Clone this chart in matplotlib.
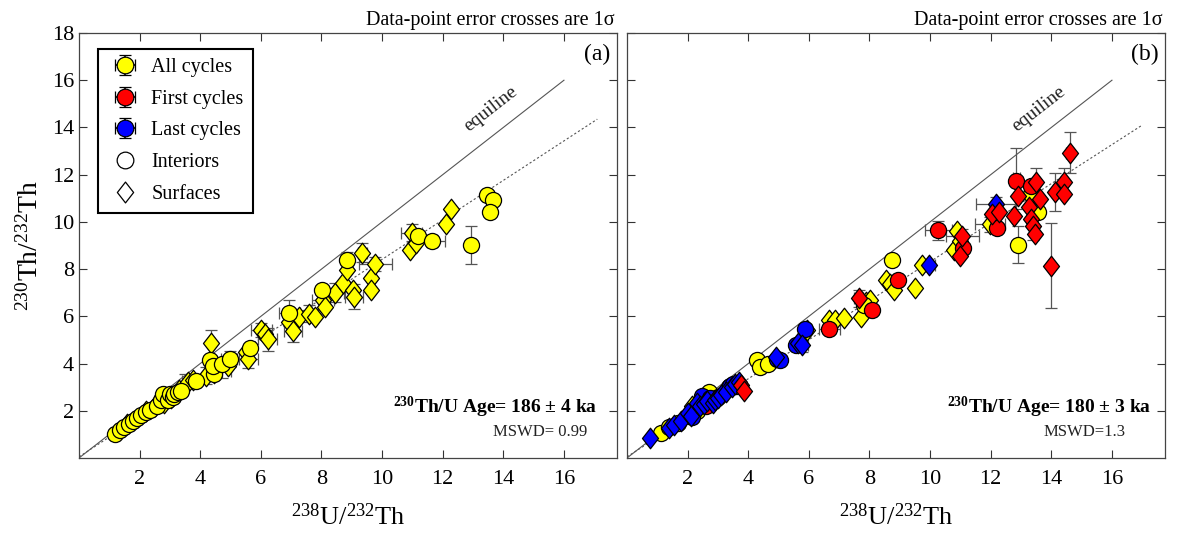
import matplotlib
matplotlib.use('Agg')
import matplotlib.pyplot as plt
import numpy as np
from matplotlib.path import Path
from matplotlib.lines import Line2D

plt.rcParams['font.family'] = ['Liberation Serif', 'DejaVu Serif']
plt.rcParams['mathtext.fontset'] = 'custom'
plt.rcParams['mathtext.rm'] = 'Liberation Serif'
plt.rcParams['mathtext.it'] = 'Liberation Serif:italic'
plt.rcParams['mathtext.bf'] = 'Liberation Serif:bold'

# ---------------- dados painel (a) ----------------
a_circ_x = [1.19, 1.35, 1.5, 1.65, 1.78, 1.9, 2.04, 2.2, 2.35, 2.56, 2.7, 2.76, 2.95, 3.0, 3.1,
            3.15, 3.25, 3.35, 3.87, 4.46, 4.33, 4.43, 4.72, 4.98, 5.63, 6.94, 8.01, 8.83,
            11.18, 11.64, 12.94, 13.46, 13.66, 13.57]
a_circ_y = [1.03, 1.17, 1.3, 1.45, 1.57, 1.7, 1.83, 1.95, 2.05, 2.21, 2.45, 2.71, 2.45, 2.7, 2.6,
            2.71, 2.8, 2.85, 3.28, 3.56, 4.16, 3.88, 3.99, 4.20, 4.67, 6.15, 7.12, 8.37,
            9.40, 9.18, 9.01, 11.13, 10.93, 10.42]
a_dia_x = [1.6, 2.2, 2.5, 2.8, 3.05, 3.3, 3.6, 3.75, 4.2, 4.35, 4.45, 4.9, 5.5, 5.57, 6.02, 6.15,
           6.22, 6.94, 7.07, 7.26, 7.59, 7.78, 8.05, 8.11, 8.44, 8.70, 8.83, 9.03, 9.07, 9.35,
           9.62, 9.62, 9.78, 10.92, 10.98, 11.11, 12.10, 12.26]
a_dia_y = [1.45, 2.0, 2.2, 2.35, 2.55, 2.9, 3.2, 3.3, 3.49, 4.87, 3.6, 3.9, 4.49, 4.21, 5.41, 5.27,
           5.02, 5.77, 5.38, 5.98, 6.12, 5.98, 6.69, 6.41, 7.00, 7.40, 7.97, 7.12, 6.84, 8.69,
           7.62, 7.12, 8.22, 8.83, 9.54, 9.11, 9.89, 10.53]
# barras de erro (x, y, sx, sy)
a_err_x = [4.35, 12.94, 11.64, 9.78, 9.35, 9.07, 10.98, 8.83, 6.94, 7.07, 6.22, 5.57, 4.98, 4.72,
           4.2, 6.02, 7.59, 8.05, 8.44, 3.5]
a_err_y = [4.87, 9.01, 9.18, 8.22, 8.69, 6.84, 9.54, 8.37, 6.15, 5.38, 5.02, 4.21, 4.20, 3.7,
           3.49, 5.41, 6.12, 6.69, 7.00, 3.25]
a_err_sx = [0.1, 0.1, 0.45, 0.55, 0.15, 0.3, 0.35, 0.2, 0.35, 0.3, 0.3, 0.35, 0.3, 0.3,
            0.1, 0.35, 0.3, 0.35, 0.3, 0.1]
a_err_sy = [0.57, 0.8, 0.25, 0.3, 0.4, 0.55, 0.35, 0.35, 0.55, 0.45, 0.5, 0.4, 0.35, 0.3,
            0.35, 0.3, 0.35, 0.4, 0.4, 0.3]

# ---------------- dados painel (b) ----------------
b_yc_x = [1.12, 1.4, 1.67, 2.3, 2.71, 2.85, 4.29, 4.38, 4.66, 7.83, 8.74, 12.89, 13.32, 13.56]
b_yc_y = [1.07, 1.3, 1.50, 2.0, 2.78, 2.5, 4.13, 3.87, 3.99, 6.48, 8.38, 9.04, 11.18, 10.40]
b_yd_x = [2.16, 5.94, 6.67, 6.85, 7.16, 7.71, 7.89, 8.01, 8.56, 8.68, 8.80, 9.51, 9.72,
          10.88, 10.79, 11.0, 11.98]
b_yd_y = [2.21, 5.41, 5.84, 5.84, 5.91, 5.98, 6.62, 6.70, 7.56, 7.35, 7.12, 7.21, 8.19,
          9.61, 8.83, 9.19, 9.89]
b_rc_x = [2.59, 3.0, 3.38, 3.6, 6.67, 8.07, 8.93, 10.27, 11.1, 12.22, 12.85, 13.32]
b_rc_y = [2.21, 2.6, 2.99, 3.05, 5.48, 6.26, 7.56, 9.65, 8.9, 9.76, 11.75, 11.54]
b_bc_x = [2.15, 2.46, 2.75, 3.40, 3.50, 4.96, 5.05, 5.57, 5.88]
b_bc_y = [1.75, 2.64, 2.55, 3.05, 3.13, 4.20, 4.15, 4.77, 5.48]
b_bd_x = [0.76, 1.37, 1.55, 1.79, 2.0, 2.10, 2.3, 2.40, 2.55, 2.65, 2.83, 2.9, 3.01, 3.1, 3.26,
          3.45, 3.55, 3.68, 4.90, 5.65, 5.76, 9.96, 12.16]
b_bd_y = [0.83, 1.28, 1.4, 1.57, 1.9, 1.78, 2.35, 2.21, 2.3, 2.42, 2.35, 2.45, 2.56, 2.65, 2.78,
          3.0, 3.15, 3.21, 4.27, 4.85, 4.77, 8.19, 10.76]
b_rd_x = [3.75, 3.87, 7.65, 11.0, 11.06, 12.04, 12.28, 12.77, 12.89, 13.26, 13.32, 13.38, 13.45,
          13.50, 13.62, 13.99, 14.13, 14.41, 14.41, 14.60]
b_rd_y = [3.1, 2.85, 6.76, 8.55, 9.40, 10.33, 10.40, 10.26, 11.11, 10.61, 10.11, 9.83, 9.47,
          11.68, 10.97, 8.15, 11.25, 11.68, 11.18, 12.93]
b_err_x = [13.99, 14.60, 12.85, 12.89, 10.27, 12.16, 11.98, 11.06, 14.13, 14.41, 13.50, 13.38,
           7.65, 6.67, 5.88, 5.76, 9.96]
b_err_y = [8.15, 12.93, 11.84, 9.04, 9.65, 10.76, 9.89, 9.40, 11.25, 11.68, 11.68, 9.83,
           6.76, 5.48, 5.48, 4.77, 8.19]
b_err_sx = [0.1, 0.1, 0.1, 0.1, 0.45, 0.64, 0.5, 0.55, 0.1, 0.1, 0.1, 0.1,
            0.15, 0.35, 0.2, 0.2, 0.2]
b_err_sy = [1.8, 0.88, 1.3, 0.8, 0.4, 0.3, 0.3, 0.3, 0.8, 0.6, 0.6, 0.6,
            0.35, 0.2, 0.2, 0.3, 0.1]

# linhas
equi_x = [0, 16]
equi_y = [0, 16]
iso_a_x = [0, 17.1]
iso_a_y = [0.05, 14.35]
iso_b_x = [0, 17.0]
iso_b_y = [0.05, 14.1]

ages = ['$^{\\mathbf{230}}$Th/U Age= 186 ± 4 ka', '$^{\\mathbf{230}}$Th/U Age= 180 ± 3 ka']
mswd = ['MSWD= 0.99', 'MSWD=1.3']
panel_lbl = ['(a)', '(b)']

# marcador losango
diamond = Path([(0, 1), (0.78, 0), (0, -1), (-0.78, 0), (0, 1)],
               [Path.MOVETO, Path.LINETO, Path.LINETO, Path.LINETO, Path.CLOSEPOLY])
S_CIRC = 11.6 ** 2
S_DIA = 14.8 ** 2

fig = plt.figure(figsize=(11.78, 5.33), dpi=100)
ax_a = fig.add_axes([79 / 1178, 75 / 533, 538 / 1178, 425 / 533])
ax_b = fig.add_axes([627 / 1178, 75 / 533, 538 / 1178, 425 / 533])


def base(ax, i, iso_x, iso_y):
    ax.set_xlim(0, 17.75)
    ax.set_ylim(0, 18)
    ax.set_xticks(range(2, 17, 2))
    ax.set_yticks(range(2, 19, 2))
    ax.tick_params(direction='in', top=True, right=True, length=6, width=0.8,
                   labelsize=16, colors='#333333', labelcolor='black')
    ax.tick_params(axis='x', pad=9)
    for s in ax.spines.values():
        s.set_color('#444444')
        s.set_linewidth(0.9)
    ax.plot(equi_x, equi_y, color='#555555', lw=0.8, zorder=1)
    ax.plot(iso_x, iso_y, color='#555555', lw=0.8, ls=(0, (2, 2)), zorder=1)
    ax.text(13.75, 14.5, 'equiline', fontsize=14, rotation=45, transform_rotates_text=True,
            rotation_mode='anchor', ha='center', va='bottom', color='#222222')
    ax.text(0.995, 1.008, 'Data-point error crosses are 1σ', transform=ax.transAxes,
            ha='right', va='bottom', fontsize=14.5)
    ax.text(0.988, 0.975, panel_lbl[i], transform=ax.transAxes, ha='right', va='top', fontsize=17)
    ax.set_xlabel('$^{238}$U/$^{232}$Th', fontsize=19, labelpad=10)


base(ax_a, 0, iso_a_x, iso_a_y)
base(ax_b, 1, iso_b_x, iso_b_y)
ax_b.tick_params(labelleft=False)
ax_a.set_ylabel('$^{230}$Th/$^{232}$Th', fontsize=20, labelpad=6)

ekw = dict(fmt='none', ecolor='#555555', elinewidth=0.9, capsize=4, capthick=0.9, zorder=2)
mkw = dict(edgecolors='black', linewidths=0.9, zorder=3)

# painel (a)
ax_a.errorbar(a_err_x, a_err_y, xerr=a_err_sx, yerr=a_err_sy, **ekw)
ax_a.scatter(a_dia_x, a_dia_y, s=S_DIA, marker=diamond, c='#ffff00', **mkw)
ax_a.scatter(a_circ_x, a_circ_y, s=S_CIRC, marker='o', c='#ffff00', **mkw)

# painel (b)
ax_b.errorbar(b_err_x, b_err_y, xerr=b_err_sx, yerr=b_err_sy, **ekw)
ax_b.scatter(b_yd_x, b_yd_y, s=S_DIA, marker=diamond, c='#ffff00', **mkw)
ax_b.scatter(b_yc_x, b_yc_y, s=S_CIRC, marker='o', c='#ffff00', **mkw)
ax_b.scatter(b_rc_x, b_rc_y, s=S_CIRC, marker='o', c='#ff0000', **mkw)
ax_b.scatter(b_bc_x, b_bc_y, s=S_CIRC, marker='o', c='#0000ff', **mkw)
ax_b.scatter(b_bd_x, b_bd_y, s=S_DIA, marker=diamond, c='#0000ff', **mkw)
ax_b.scatter(b_rd_x, b_rd_y, s=S_DIA, marker=diamond, c='#ff0000', **mkw)

for i, ax in enumerate([ax_a, ax_b]):
    dx = 0.0 if i == 0 else 0.012
    ax.text(0.963 + dx, 0.12, ages[i], transform=ax.transAxes, ha='right', va='center',
            fontsize=14, fontweight='bold')
    ax.text(0.857 - 0.006 * i, 0.062, mswd[i], transform=ax.transAxes, ha='center', va='center',
            fontsize=12, color='#222222')

# legenda
handles = []
for col in ['#ffff00', '#ff0000', '#0000ff']:
    h = ax_a.errorbar([np.nan], [np.nan], xerr=[1], yerr=[1], fmt='o', mfc=col, mec='black',
                      mew=0.9, ms=12, ecolor='black', elinewidth=1.2, capsize=4, capthick=1.2)
    handles.append(h)
handles.append(Line2D([], [], ls='none', marker='o', mfc='white', mec='black', ms=12, mew=0.9))
handles.append(Line2D([], [], ls='none', marker=diamond, mfc='white', mec='black', ms=15, mew=0.9))
leg = ax_a.legend(handles, ['All cycles', 'First cycles', 'Last cycles', 'Interiors', 'Surfaces'],
                  loc='upper left', bbox_to_anchor=(0.035, 0.962), borderaxespad=0,
                  fontsize=14.5, frameon=True, fancybox=False, edgecolor='black', framealpha=1,
                  handlelength=1.8, handletextpad=0.4, labelspacing=0.62, borderpad=0.45)
leg.get_frame().set_linewidth(1.5)

plt.savefig('out.png', dpi=100)
